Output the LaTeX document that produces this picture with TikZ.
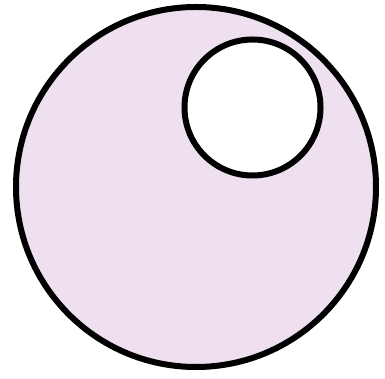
\documentclass[tikz,border=0pt]{standalone}
\usepackage{xcolor}
\usepackage{tikz}
\definecolor{lilac}{RGB}{239,224,239}

\begin{document}
\begin{tikzpicture}[
    x=1pt, y=1pt,
    ring/.style={
        draw=black, line width=6pt
    },
    outerdisc/.style={ring, fill=lilac},
    innerdisc/.style={ring, fill=white},
]

% ---------- Canvas ----------
\useasboundingbox (0,0) rectangle (385,379);

% ---------- Outer disc ----------
\coordinate (outerc) at (196,192);
\draw[outerdisc] (outerc) circle (180);

% ---------- Inner hole ----------
\coordinate (innerc) at (252.5,271.5);
\draw[innerdisc] (innerc) circle (68);

\end{tikzpicture}
\end{document}
